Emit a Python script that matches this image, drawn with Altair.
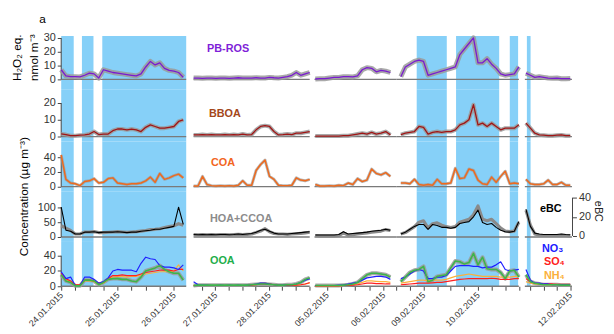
import altair as alt
import pandas as pd

# ---------------- broken time axis: the plotted periods ----------------
PIECE_START = ["2015-01-24 00:00", "2015-01-26 14:15", "2015-02-04 18:40",
               "2015-02-08 12:00", "2015-02-11 03:30"]
PIECE_END = ["2015-01-26 05:15", "2015-01-28 18:15", "2015-02-06 05:30",
             "2015-02-10 18:00", "2015-02-12 00:45"]
PIECE_OFFSET = [0.0, 56.4, 107.9, None, 197.5]   # None: joins the previous piece
PIECE_RATE = [1.0, 0.951, 1.0, 0.967, 0.944]
AXIS_MAX = 217.8

# ---------------- sampling of each period (2-hour steps) ----------------
GRID_START = ["2015-01-24 00:00", "2015-01-26 14:15", "2015-02-04 19:00",
              "2015-02-08 14:00", "2015-02-11 04:00"]
STEP_HOURS = 2

# ---------------- blue shaded periods ----------------
BAND_START = ["2015-01-24 00:00", "2015-01-24 08:50", "2015-01-24 17:30",
              "2015-02-08 21:00", "2015-02-09 14:20", "2015-02-10 14:00",
              "2015-02-11 04:25"]
BAND_END = ["2015-01-24 05:20", "2015-01-24 13:45", "2015-01-26 05:15",
            "2015-02-09 10:15", "2015-02-10 09:20", "2015-02-10 17:40",
            "2015-02-11 06:05"]

# ---------------- series values (one list per period) ----------------
PBROS = [
    [7, 2.5, 2, 2, 1.8, 3, 4.5, 4, 1, 7, 6, 5, 4.5, 4, 3.5, 3, 2.5, 4, 9, 13, 10.5, 12, 8, 6.5, 6, 5, 1.5],
    [1, 1, 0.8, 1, 1, 0.8, 1, 1, 0.8, 1, 1.2, 1, 1, 1, 1.2, 1, 1, 1.5, 1.2, 1, 1.5, 2, 3, 5, 3, 4, 5],
    [0.3, 0.5, 0.5, 1, 1.5, 1.5, 2, 2, 1.8, 2.5, 7, 8.5, 8, 5.5, 6.5, 6, 5],
    [2, 9, 11, 13, 14, 13, 3, 4, 5, 6, 7, 8, 9, 18, 22, 26, 30, 12, 12, 15, 11, 8, 4, 3, 3.5, 4, 9],
    [4.5, 3, 1.5, 2, 1.5, 1, 0.8, 1, 0.5, 0.5, 0.6],
]
BBOA = [
    [1.6, 1.2, 0.5, 0.5, 0.8, 1, 1.5, 3, 1.2, 1.5, 1.5, 3.5, 4.5, 4.5, 4, 4.5, 4, 3, 5.5, 7, 6, 5, 5, 5.5, 6, 9, 10],
    [1, 1, 1.2, 1, 1.2, 1, 1, 1.2, 1, 1.2, 1, 1.5, 1, 1.2, 4, 6, 6.5, 6, 3, 1, 1.2, 1.5, 1.2, 2, 2, 2.5, 3],
    [0.3, 0.3, 0.3, 0.3, 0.3, 0.3, 0.5, 0.5, 1, 1.5, 2, 1.5, 2.5, 1.5, 2, 3, 1],
    [1.2, 2, 2.5, 3, 6, 5.5, 1.5, 2.5, 3, 2.5, 3, 3, 4, 7, 8, 10, 19, 7, 8, 6, 8, 6, 4, 5, 5, 5, 7],
    [8, 5, 2, 1, 0.8, 0.5, 0.5, 0.8, 1, 0.5, 0.5],
]
COA = [
    [43, 10, 5, 4, 1.5, 7, 8, 11, 5, 6, 11, 12, 5, 4, 3, 4, 4, 5, 8, 13, 6, 18, 10, 12, 15, 17, 12],
    [1, 1, 14, 3, 1.5, 1, 1.5, 1, 1.5, 1, 2, 8, 2, 2, 22, 30, 36, 14, 10, 2, 1.5, 1.5, 2, 12, 9, 8, 10],
    [3, 1, 1, 1.5, 1, 2, 1.5, 5, 3, 11, 7, 9, 24, 18, 16, 19, 14],
    [5, 5, 4, 10, 3, 2, 3, 2, 10, 4, 4, 5, 25, 11, 12, 24, 22, 9, 4, 3, 13, 6, 14, 21, 4, 5, 4],
    [10, 4, 3, 3, 4, 9, 3, 3, 6, 2, 2],
]
HOA_CCOA = [
    [38, 30, 22, 10, 10, 17, 17, 18, 15, 15, 16, 17, 18, 17, 16, 17, 18, 20, 22, 25, 26, 28, 32, 35, 38, 45, 40],
    [8, 7, 8, 7, 8, 7, 8, 8, 7, 8, 9, 8, 9, 10, 15, 20, 28, 18, 12, 10, 10, 9, 10, 11, 12, 14, 16],
    [5, 4, 4, 4, 4, 5, 14, 6, 8, 10, 12, 14, 16, 18, 20, 25, 22],
    [10, 15, 25, 35, 50, 55, 30, 45, 48, 40, 35, 32, 35, 50, 55, 60, 75, 105, 60, 55, 60, 45, 30, 20, 18, 20, 50],
    [90, 40, 10, 6, 5, 5, 5, 5, 6, 5, 4],
]
EBC = [
    [30, 6, 5, 2, 2, 4, 4, 4.5, 3.5, 4, 4, 4, 4.5, 4, 3.5, 4, 4, 5, 5.5, 6, 7, 7, 8, 9, 10, 30, 12],
    [1.5, 1.2, 1.5, 1.2, 1.5, 1.2, 1.5, 1.5, 1.2, 1.5, 2, 1.5, 2, 2.5, 4, 6, 7, 5, 3, 2, 2, 2, 2.5, 3, 3.5, 4, 4.5],
    [1, 1, 1, 1, 1, 1.5, 4.5, 2, 2.5, 3, 3.5, 4, 5, 5.5, 6, 7, 6],
    [2, 4, 7, 10, 12, 12, 7, 12, 11, 9, 9, 8, 9, 13, 14, 15, 20, 27, 14, 12, 13, 9, 6, 4.5, 4, 5, 15],
    [28, 10, 3, 2, 1.5, 1.5, 1.5, 1.5, 2, 1.5, 1.2],
]
NO3 = [
    [19, 10, 12, 1, 1, 12, 12, 9, 4, 6, 11, 20, 22, 21, 21, 21, 19, 30, 38, 36, 35, 27, 25, 25, 24, 22, 28],
    [6, 2, 1.5, 1.5, 1, 1, 1.5, 1, 1.5, 1, 1.5, 1, 1.5, 2, 3, 4, 4, 3, 2, 1.5, 1.5, 2, 2, 3, 5, 8, 10],
    [1, 1, 1, 1, 1, 1.5, 2, 3, 4, 5, 8, 11, 12, 13, 13, 12, 9],
    [10, 12, 16, 20, 22, 20, 10, 10, 12, 12, 14, 20, 26, 27, 27, 27, 26, 26, 24, 25, 25, 28, 32, 22, 20, 21, 22],
    [22, 8, 4, 4, 3, 3, 2, 2, 2, 2, 2],
]
SO4 = [
    [17, 10, 7, 2, 2, 8, 8, 7, 4, 5, 10, 14, 14, 15, 14, 14, 14, 16, 18, 19, 20, 21, 21, 21, 20, 22, 22],
    [1, 1, 1, 1, 1, 1, 1, 1, 1, 1, 1, 1, 1, 1.5, 2, 3, 3.5, 3, 2, 1.5, 1, 1, 1, 1.5, 2, 3, 5],
    [0.5, 0.5, 0.5, 0.5, 0.5, 0.5, 1, 1, 1.5, 2, 3, 4, 4, 3.5, 3.5, 3, 3],
    [2, 2.5, 3, 3.5, 4, 4, 4, 4.5, 5, 5, 6, 7, 8, 9, 9.5, 10, 10, 10, 10, 10, 10.5, 10, 9, 9, 9, 10, 10],
    [10, 6, 4, 3.5, 3, 3, 3, 2.5, 2.5, 2.5, 2.5],
]
NH4 = [
    [15, 9, 6, 1.5, 1.5, 7, 7, 6, 3, 4, 9, 12, 13, 13, 12, 13, 13, 15, 16, 17, 18, 19, 19, 19, 20, 28, 20],
    [1, 1, 1, 1, 1, 1, 1, 1, 1, 1, 1, 1, 1, 1.5, 2.5, 3.5, 4, 3, 2, 1.5, 1, 1, 1, 1.5, 2, 3, 4],
    [0.5, 0.5, 0.5, 0.5, 0.5, 0.5, 1, 1, 2, 3, 5, 7, 7, 6.5, 6, 6, 5],
    [4, 5, 6, 7, 8, 8, 7, 8, 8, 8, 9, 11, 13, 14, 15, 16, 15, 14, 13, 13, 13, 13, 12, 12, 12, 13, 13],
    [6, 4, 3, 2.5, 2, 2, 2, 2, 2, 1.5, 1.5],
]
OOA = [
    [15, 7, 5, 0.5, 0.5, 8, 8, 7, 2, 5, 9, 10, 10, 9, 9, 7, 6, 12, 20, 22, 24, 27, 22, 19, 17, 17, 8],
    [1, 1.5, 1.5, 1.5, 1.5, 1.5, 1.5, 1.5, 1.5, 1.5, 1.5, 1.5, 1.5, 2, 2.5, 3, 3, 2.5, 2, 1.5, 1.5, 2, 2, 3, 5, 9, 11],
    [1, 1, 1, 1, 1, 1, 1.5, 2, 3, 5, 10, 15, 17, 17, 16, 15, 12],
    [6, 12, 18, 21, 22, 26, 6, 8, 13, 14, 15, 24, 33, 32, 29, 31, 43, 28, 38, 23, 22, 22, 18, 10, 20, 21, 12],
    [15, 6, 4, 3, 2, 2, 2, 2, 1.5, 1.5, 1.5],
]

SERIES = {"PB-ROS": PBROS, "BBOA": BBOA, "COA": COA, "HOA": HOA_CCOA, "eBC": EBC,
          "NO3": NO3, "SO4": SO4, "NH4": NH4, "OOA": OOA}

# ---------------- broken-axis mapping ----------------
ps = [pd.Timestamp(s) for s in PIECE_START]
pe = [pd.Timestamp(s) for s in PIECE_END]
offs = []
for i in range(len(ps)):
    if PIECE_OFFSET[i] is None:
        offs.append(offs[i - 1] + PIECE_RATE[i - 1] * (pe[i - 1] - ps[i - 1]).total_seconds() / 3600)
    else:
        offs.append(PIECE_OFFSET[i])


def axis_pos(ts, i):
    return offs[i] + PIECE_RATE[i] * (ts - ps[i]).total_seconds() / 3600


def locate(ts):
    tol = pd.Timedelta(minutes=1)
    for i in range(len(ps)):
        if ps[i] - tol <= ts <= pe[i] + tol:
            return axis_pos(ts, i), i
    raise ValueError(ts)


rows = []
for name, segs in SERIES.items():
    for g, vals in enumerate(segs):
        t0 = pd.Timestamp(GRID_START[g])
        for k, v in enumerate(vals):
            x, p = locate(t0 + pd.Timedelta(hours=STEP_HOURS * k))
            rows.append({"series": name, "x": x, "piece": p, "value": v})
df = pd.DataFrame(rows)

band_df = pd.DataFrame([{"x0": locate(pd.Timestamp(a))[0], "x1": locate(pd.Timestamp(b))[0]}
                        for a, b in zip(BAND_START, BAND_END)])
zero_df = pd.DataFrame([{"x0": axis_pos(ps[i], i), "x1": axis_pos(pe[i], i)} for i in range(len(ps))])

tick_vals, tick_labs = [], []
for i in range(len(ps)):
    t = ps[i].ceil("6h")
    while t <= pe[i]:
        v = round(axis_pos(t, i), 3)
        tick_vals.append(v)
        if t.hour == 0:
            tick_labs.append((v, t.strftime("%d.%m.%Y")))
        t += pd.Timedelta(hours=6)
label_expr = "''"
for v, lab in reversed(tick_labs):
    label_expr = f"abs(datum.value - {v}) < 0.05 ? '{lab}' : ({label_expr})"

# ---------------- styling ----------------
W = 519
BAND = "#86d0f8"
ZERO = "#7a7a7a"
ENV = "#9a9a9a"
FONT = "Liberation Sans"
xsc = alt.Scale(domain=[0, AXIS_MAX], nice=False, zero=False)
one = pd.DataFrame({"k": [0]})


def yaxis(vals, orient="left"):
    return alt.Axis(values=vals, orient=orient, title=None, domain=False, grid=False,
                    tickSize=4, labelPadding=2, labelFontSize=11, labelFlush=False)


def bands(h, xax):
    return alt.Chart(band_df).mark_rect(color=BAND).encode(
        x=alt.X("x0:Q", scale=xsc, axis=xax), x2="x1:Q",
        y=alt.value(0), y2=alt.value(h))


def zero(ysc, yax, xax):
    return alt.Chart(zero_df).mark_rule(color=ZERO, strokeWidth=1.3).encode(
        x=alt.X("x0:Q", scale=xsc, axis=xax), x2="x1:Q",
        y=alt.YDatum(0, scale=ysc, axis=yax))


def ydom(top, ysc, yax, xpos=0):
    return alt.Chart(one).mark_rule(color="#444", strokeWidth=1).encode(
        x=alt.value(xpos), y=alt.YDatum(top, scale=ysc, axis=yax), y2=alt.Y2Datum(0))


def line(name, color, width, ysc, yax, xax, opacity=1.0):
    return alt.Chart(df).transform_filter(alt.datum.series == name).mark_line(
        color=color, strokeWidth=width, opacity=opacity, strokeJoin="round").encode(
        x=alt.X("x:Q", scale=xsc, axis=xax),
        y=alt.Y("value:Q", scale=ysc, axis=yax),
        detail="piece:N")


def label(text, x, y, color, size=11, bold=True, angle=0, align="left"):
    return alt.Chart(pd.DataFrame({"t": [text]})).mark_text(
        font=FONT, fontSize=size, fontWeight="bold" if bold else "normal", color=color,
        align=align, baseline="middle", angle=angle).encode(
        x=alt.value(x), y=alt.value(y), text="t:N")


# ---------------- panel 1: PB-ROS ----------------
h1 = 54
s1 = alt.Scale(domain=[-7.1, 31.4], nice=False, zero=False)
a1 = yaxis([0, 10, 20, 30])
p1 = alt.layer(
    bands(h1, None), zero(s1, a1, None), ydom(30, s1, a1),
    line("PB-ROS", ENV, 5, s1, a1, None, 0.85),
    line("PB-ROS", "#7a1ad0", 1.3, s1, a1, None),
    label("PB-ROS", 148, 13, "#7f1fd8"),
    label("a", -19, -17, "black", size=12, bold=False, align="center"),
    label("H₂O₂ eq.", -45, 22, "black", size=12, bold=False, angle=270, align="center"),
    label("nmol m⁻³", -28, 22, "black", size=12, bold=False, angle=270, align="center"),
).properties(width=W, height=h1)

# ---------------- panel 2: BBOA ----------------
h2 = 53
s2 = alt.Scale(domain=[-2.9, 28.2], nice=False, zero=False)
a2 = yaxis([0, 10, 20])
p2 = alt.layer(
    bands(h2, None), zero(s2, a2, None), ydom(20, s2, a2),
    line("BBOA", ENV, 4, s2, a2, None, 0.85),
    line("BBOA", "#a01515", 1.3, s2, a2, None),
    label("BBOA", 150, 25, "#a4471a"),
).properties(width=W, height=h2)

# ---------------- panel 3: COA ----------------
h3 = 51
s3 = alt.Scale(domain=[-6.7, 61.3], nice=False, zero=False)
a3 = yaxis([0, 20, 40])
p3 = alt.layer(
    bands(h3, None), zero(s3, a3, None), ydom(40, s3, a3),
    line("COA", ENV, 3, s3, a3, None, 0.7),
    line("COA", "#ee6a1e", 1.5, s3, a3, None),
    label("COA", 152, 22, "#f26522"),
).properties(width=W, height=h3)

# ---------------- panel 4: HOA+CCOA and eBC ----------------
h4 = 51
s4 = alt.Scale(domain=[-16.7, 153.3], nice=False, zero=False)
a4 = yaxis([0, 50, 100])
se = alt.Scale(domain=[-6.2, 46.2], nice=False, zero=False)
ae = yaxis([0, 20, 40], orient="right")
left4 = alt.layer(
    bands(h4, None), zero(s4, a4, None), ydom(100, s4, a4),
    line("HOA", "#8a8a8a", 3.2, s4, a4, None),
    label("HOA+CCOA", 151, 28, "#8c8c8c"),
    label("eBC", 486, 18, "black"),
    label("eBC", 545, 20, "#222", size=11, bold=False, angle=90, align="center"),
    label("Concentration (µg m⁻³)", -38, 5, "black", size=12, bold=False, angle=270, align="center"),
)
right4 = alt.layer(
    line("eBC", "black", 1.1, se, ae, None),
    ydom(40, se, ae, xpos=W),
)
p4 = alt.layer(left4, right4).resolve_scale(y="independent").properties(width=W, height=h4)

# ---------------- panel 5: OOA and inorganics ----------------
h5 = 45
s5 = alt.Scale(domain=[0, 58], nice=False, zero=False)
a5 = yaxis([0, 20, 40])
xax = alt.Axis(values=tick_vals, labelExpr=label_expr, title=None, domain=False, grid=False,
               tickSize=4, labelAngle=-45, labelAlign="right", labelBaseline="middle",
               labelFontSize=9, labelPadding=3, labelOverlap=False, labelFlush=False)
p5 = alt.layer(
    bands(h5, xax), zero(s5, a5, xax), ydom(40, s5, a5),
    line("OOA", ENV, 4, s5, a5, xax, 0.85),
    line("NH4", "#fbb03b", 1.2, s5, a5, xax),
    line("SO4", "#ff2020", 1.2, s5, a5, xax),
    line("NO3", "#2020ff", 1.2, s5, a5, xax),
    line("OOA", "#3db54a", 1.6, s5, a5, xax),
    label("OOA", 151, 19, "#1fae4b"),
    label("NO₃", 488, 7, "#2020ff"),
    label("SO₄", 490, 20, "#ff2020"),
    label("NH₄", 490, 35, "#fbb03b"),
).properties(width=W, height=h5)

chart = alt.vconcat(p1, p2, p3, p4, p5, spacing=0, bounds="flush").properties(
    padding={"left": 3, "top": 3, "right": 2, "bottom": 2}
).configure(font=FONT).configure_view(stroke=None).configure_axis(
    labelFont=FONT, labelColor="#333", tickColor="#444")

chart.save("out.html", embed_options={"renderer": "svg", "actions": False})
